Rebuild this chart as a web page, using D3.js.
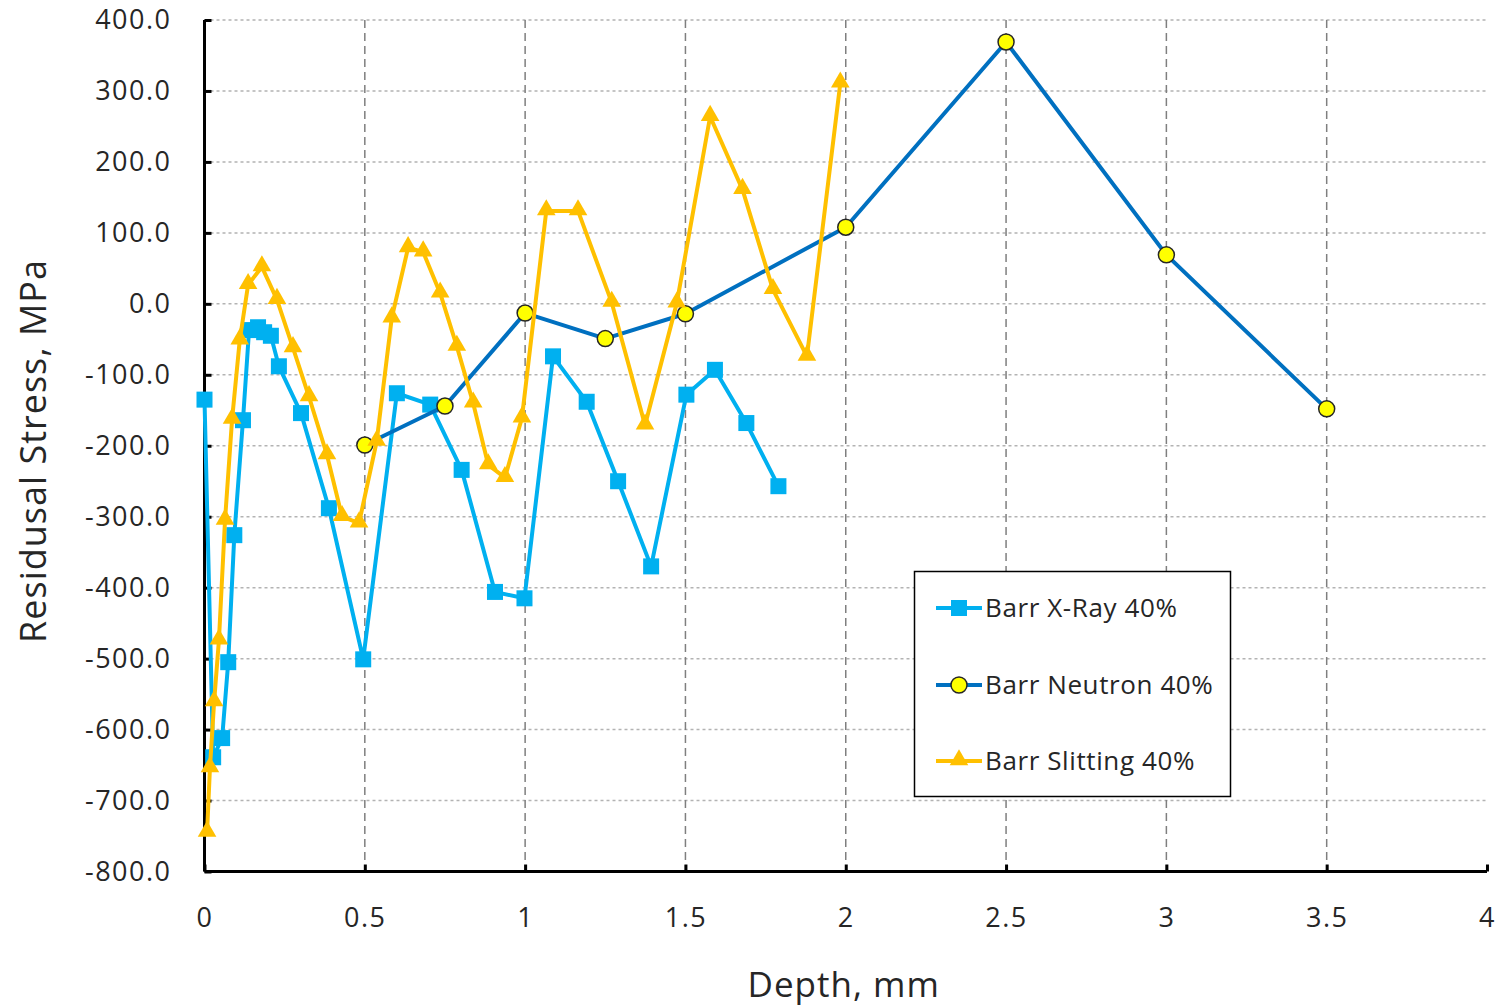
<!DOCTYPE html>
<html>
<head>
<meta charset="utf-8">
<script src="https://cdn.jsdelivr.net/npm/d3@7"></script>
<style>
html,body{margin:0;padding:0;background:#fff;}
svg text{font-family:"Open Sans","Noto Sans",sans-serif;fill:#262626;}
</style>
</head>
<body>
<svg id="chart" width="1503" height="1008"></svg>
<script>
// ---- data ----
const xrayDepth  = [0, 0.027, 0.055, 0.074, 0.093, 0.12, 0.139, 0.167, 0.186, 0.207, 0.232, 0.301, 0.388, 0.495, 0.6, 0.704, 0.802, 0.906, 0.998, 1.087, 1.192, 1.29, 1.393, 1.503, 1.592, 1.69, 1.79];
const xrayStress = [-135, -639, -612, -505, -326, -164, -37, -33, -40, -45, -88, -154, -288, -501, -126, -142, -234, -406, -415, -74, -138, -250, -370, -128, -93, -168, -257];

const neutronDepth  = [0.5, 0.75, 1.0, 1.25, 1.5, 2.0, 2.5, 3.0, 3.5];
const neutronStress = [-199, -144, -13, -49, -14, 108, 369, 69, -148];

const slitDepth  = [0.008, 0.017, 0.03, 0.045, 0.064, 0.086, 0.11, 0.136, 0.179, 0.226, 0.276, 0.326, 0.382, 0.429, 0.482, 0.537, 0.584, 0.635, 0.682, 0.735, 0.787, 0.838, 0.885, 0.937, 0.99, 1.066, 1.165, 1.27, 1.374, 1.473, 1.577, 1.678, 1.773, 1.879, 1.983];
const slitStress = [-745, -654, -561, -474, -305, -163, -51, 27, 52, 6, -62, -131, -213, -300, -309, -194, -20, 79, 73, 15, -60, -140, -227, -245, -161, 131, 131, 2, -171, 1, 264, 161, 20, -74, 311];

const seriesNames = ["Barr X-Ray 40%", "Barr Neutron 40%", "Barr Slitting 40%"];
const xTicks = [0, 0.5, 1, 1.5, 2, 2.5, 3, 3.5, 4];
const yTicks = [400, 300, 200, 100, 0, -100, -200, -300, -400, -500, -600, -700, -800];
const xTitle = "Depth, mm";
const yTitle = "Residusal Stress, MPa";

// ---- layout ----
const svg = d3.select("#chart");
const L = 204.5, R = 1487, T = 20, B = 871.5;
const x = d3.scaleLinear().domain([0, 4]).range([L, R]);
const y = d3.scaleLinear().domain([-800, 400]).range([B, T]);

const colors = {xray: "#00B0F0", neutron: "#0070C0", slit: "#FFC000"};

// grid
const grid = svg.append("g");
grid.selectAll("line.h").data(yTicks.filter(v => v > -800)).enter().append("line")
  .attr("x1", L).attr("x2", R).attr("y1", d => y(d)).attr("y2", d => y(d))
  .attr("stroke", "#b3b3b3").attr("stroke-width", 1.5).attr("stroke-dasharray", "3,3");
grid.selectAll("line.v").data(xTicks.filter(v => v > 0 && v < 4)).enter().append("line")
  .attr("x1", d => x(d)).attr("x2", d => x(d)).attr("y1", T).attr("y2", B)
  .attr("stroke", "#7f7f7f").attr("stroke-width", 1.5).attr("stroke-dasharray", "8,5");

// axes
const yFmt = d => d.toFixed(1);
const yAxis = d3.axisLeft(y).tickValues(yTicks).tickSize(-7).tickPadding(33).tickFormat(yFmt);
const gy = svg.append("g").attr("transform", `translate(${L},0)`).call(yAxis);
const xAxis = d3.axisBottom(x).tickValues(xTicks).tickSize(-7).tickPadding(36).tickFormat(d => String(d));
const gx = svg.append("g").attr("transform", `translate(0,${B})`).call(xAxis);
[gx, gy].forEach(g => {
  g.select(".domain").attr("stroke", "#000").attr("stroke-width", 3);
  g.selectAll(".tick line").attr("stroke", "#000").attr("stroke-width", 3);
  g.selectAll(".tick text").attr("font-size", 27).attr("fill", "#262626")
    .attr("font-family", "'Open Sans', sans-serif").style("letter-spacing", "1.5px");
});
gx.select(".domain").attr("d", `M${L},0H${R}`);
gy.select(".domain").attr("d", `M0,${B}V${T}`);

// axis titles
svg.append("text").attr("x", (L + R) / 2 - 2).attr("y", 997).attr("text-anchor", "middle")
  .attr("font-size", 35).style("letter-spacing", "1px").text(xTitle);
svg.append("text").attr("transform", `translate(46,${451}) rotate(-90)`).attr("text-anchor", "middle")
  .attr("font-size", 36).style("letter-spacing", "1px").text(yTitle);

// series
const line = d3.line().x(d => x(d[0])).y(d => y(d[1]));
const xray = xrayDepth.map((d, i) => [d, xrayStress[i]]);
const neutron = neutronDepth.map((d, i) => [d, neutronStress[i]]);
const slit = slitDepth.map((d, i) => [d, slitStress[i]]);

const triSym = d3.symbol().type(d3.symbolTriangle).size(150);

function drawSquare(g, cx, cy) {
  g.append("rect").attr("x", cx - 8).attr("y", cy - 8).attr("width", 16).attr("height", 16).attr("fill", colors.xray);
}
function drawCircle(g, cx, cy) {
  g.append("circle").attr("cx", cx).attr("cy", cy).attr("r", 8).attr("fill", "#FFFF00").attr("stroke", "#262626").attr("stroke-width", 1.5);
}
function drawTri(g, cx, cy) {
  g.append("path").attr("d", triSym()).attr("transform", `translate(${cx},${cy - 1})`).attr("fill", colors.slit);
}

const gX = svg.append("g");
gX.append("path").datum(xray).attr("d", line).attr("fill", "none").attr("stroke", colors.xray).attr("stroke-width", 4).attr("stroke-linejoin", "round");
xray.forEach(d => drawSquare(gX, x(d[0]), y(d[1])));

const gN = svg.append("g");
gN.append("path").datum(neutron).attr("d", line).attr("fill", "none").attr("stroke", colors.neutron).attr("stroke-width", 4).attr("stroke-linejoin", "round");

const gS = svg.append("g");
gS.append("path").datum(slit).attr("d", line).attr("fill", "none").attr("stroke", colors.slit).attr("stroke-width", 4).attr("stroke-linejoin", "round");
slit.forEach(d => drawTri(gS, x(d[0]), y(d[1])));

neutron.forEach(d => drawCircle(gN, x(d[0]), y(d[1])));

// legend
const lg = svg.append("g");
lg.append("rect").attr("x", 914.5).attr("y", 571.5).attr("width", 316).attr("height", 225)
  .attr("fill", "#fff").attr("stroke", "#000").attr("stroke-width", 1.5);
const legY = [608, 685, 761];
const legCol = [colors.xray, colors.neutron, colors.slit];
seriesNames.forEach((name, i) => {
  lg.append("line").attr("x1", 936).attr("x2", 982).attr("y1", legY[i]).attr("y2", legY[i])
    .attr("stroke", legCol[i]).attr("stroke-width", 4);
  if (i === 0) drawSquare(lg, 959, legY[i]);
  if (i === 1) drawCircle(lg, 959, legY[i]);
  if (i === 2) drawTri(lg, 959, legY[i]);
  lg.append("text").attr("x", 985).attr("y", legY[i]).attr("dy", "0.35em").attr("font-size", 26)
    .style("letter-spacing", "0.6px").text(name);
});
</script>
</body>
</html>
